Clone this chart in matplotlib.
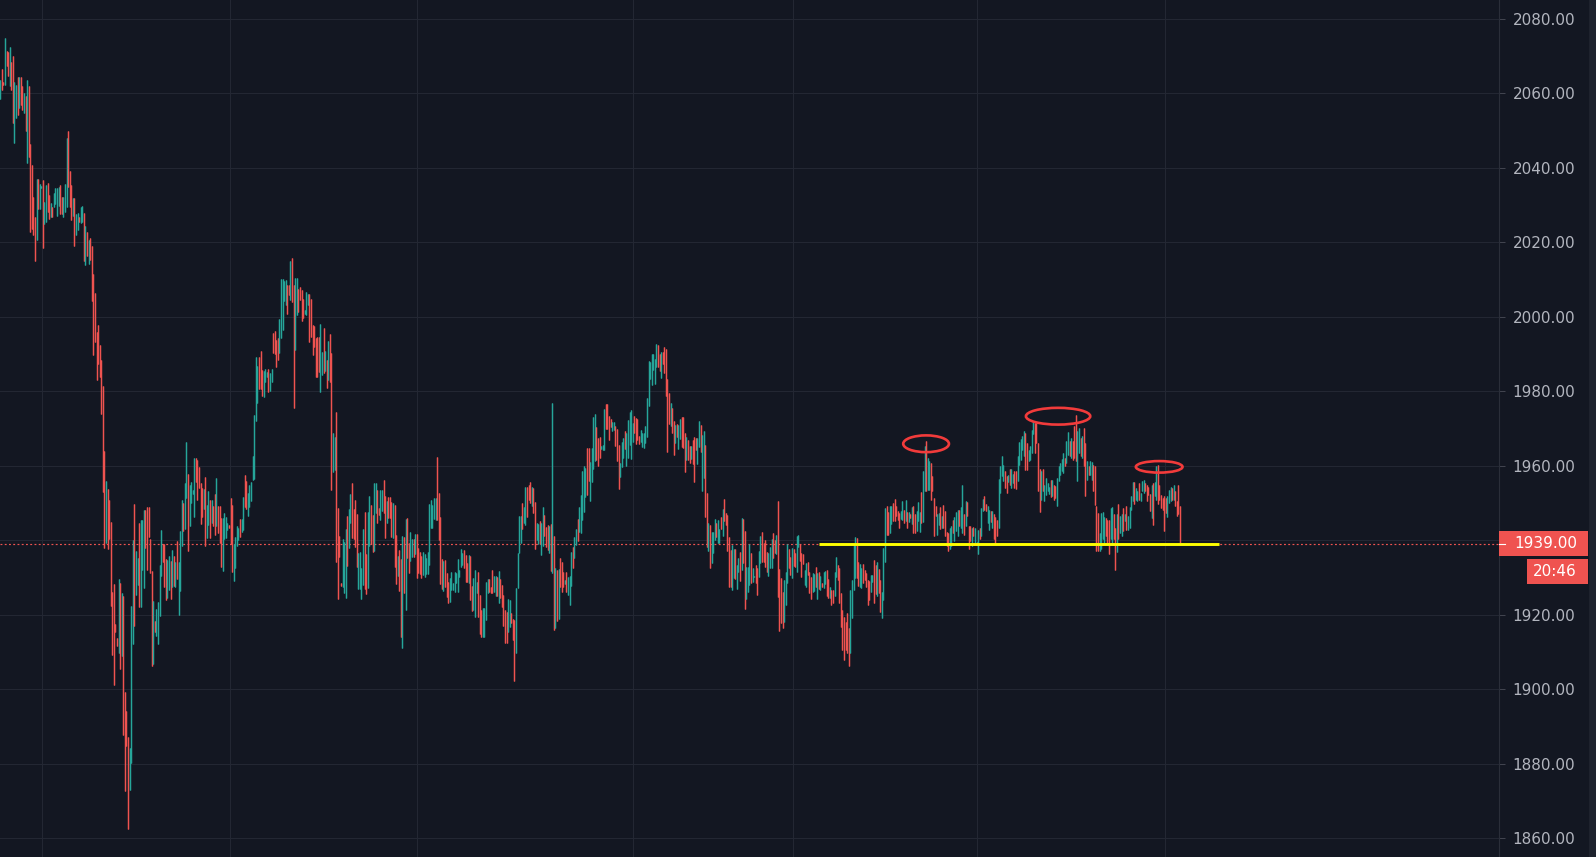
import numpy as np
import matplotlib
matplotlib.use("Agg")
import matplotlib.pyplot as plt
from matplotlib.patches import Rectangle, Ellipse
from matplotlib.lines import Line2D
from matplotlib import transforms

# ---- candle data (per bar: high, low, direction 1 = up / 0 = down) ----
highs = [
    2063.7, 2066.7, 2063.0, 2074.8, 2071.5, 2071.0, 2072.6, 2068.5, 2070.1, 2063.0,
    2062.3, 2064.4, 2064.4, 2064.4, 2061.9, 2060.0, 2059.2, 2063.7, 2061.9, 2046.4,
    2040.8, 2032.3, 2026.8, 2037.1, 2037.1, 2035.7, 2035.2, 2036.8, 2030.9, 2035.3,
    2036.0, 2032.7, 2030.5, 2029.5, 2033.2, 2034.7, 2034.7, 2035.0, 2035.4, 2032.3,
    2032.3, 2035.7, 2048.0, 2049.8, 2039.1, 2035.4, 2031.9, 2032.0, 2027.5, 2027.8,
    2026.8, 2029.5, 2029.8, 2027.9, 2024.5, 2022.7, 2020.7, 2021.3, 2019.0, 2011.6,
    2006.4, 1996.0, 1997.7, 1992.4, 1988.5, 1981.4, 1963.9, 1956.0, 1953.7, 1950.7,
    1944.8, 1926.1, 1928.1, 1917.4, 1913.8, 1929.7, 1928.4, 1925.9, 1925.0, 1899.3,
    1894.2, 1887.2, 1884.2, 1922.2, 1940.0, 1949.6, 1937.0, 1935.2, 1944.5, 1945.4,
    1945.4, 1948.1, 1948.1, 1949.0, 1949.0, 1940.3, 1931.7, 1923.7, 1918.3, 1921.5,
    1923.4, 1933.3, 1942.7, 1939.1, 1939.0, 1934.9, 1934.7, 1935.8, 1934.4, 1937.3,
    1935.8, 1934.2, 1939.8, 1934.2, 1942.5, 1950.8, 1949.9, 1955.3, 1966.4, 1957.9,
    1954.8, 1955.7, 1953.5, 1962.0, 1962.2, 1961.5, 1959.6, 1955.3, 1953.9, 1953.7,
    1956.9, 1949.4, 1953.3, 1950.8, 1950.8, 1949.2, 1952.4, 1956.6, 1949.2, 1949.2,
    1945.9, 1945.9, 1947.2, 1946.1, 1944.5, 1944.0, 1951.2, 1949.4, 1938.9, 1940.9,
    1943.8, 1943.2, 1945.6, 1945.6, 1951.7, 1957.5, 1955.9, 1952.8, 1954.8, 1955.7,
    1962.6, 1973.6, 1989.3, 1986.8, 1989.3, 1990.8, 1985.7, 1985.5, 1986.0, 1985.3,
    1985.9, 1984.8, 1986.0, 1995.6, 1996.3, 1993.8, 1994.2, 1999.3, 2010.1, 2010.1,
    2009.7, 2009.9, 2008.5, 2008.5, 2015.1, 2015.7, 2008.5, 2010.3, 2010.3, 2007.6,
    2007.9, 2007.2, 2004.7, 2001.8, 2006.7, 2006.1, 2006.1, 2004.7, 1997.8, 1997.5,
    1994.2, 1994.7, 1994.5, 1998.1, 1990.6, 1996.9, 1990.8, 1988.4, 1993.6, 1995.4,
    1990.2, 1968.7, 1967.8, 1974.5, 1948.6, 1941.1, 1928.6, 1940.3, 1939.6, 1943.0,
    1946.6, 1948.4, 1952.4, 1955.4, 1948.4, 1950.8, 1947.0, 1936.5, 1936.7, 1932.6,
    1943.0, 1947.7, 1936.3, 1947.7, 1951.9, 1949.4, 1946.8, 1955.3, 1955.3, 1953.6,
    1948.6, 1953.5, 1953.6, 1956.2, 1951.9, 1950.5, 1951.5, 1951.5, 1950.2, 1950.1,
    1949.4, 1941.4, 1935.7, 1937.4, 1934.9, 1941.1, 1940.8, 1945.6, 1946.0, 1939.3,
    1942.1, 1940.3, 1940.3, 1941.7, 1941.7, 1937.8, 1936.7, 1935.8, 1936.7, 1936.3,
    1935.1, 1936.7, 1949.6, 1950.8, 1949.4, 1951.2, 1951.2, 1962.4, 1952.8, 1946.3,
    1934.9, 1934.5, 1934.7, 1931.1, 1928.9, 1929.9, 1931.5, 1928.6, 1931.5, 1931.1,
    1934.9, 1932.0, 1937.6, 1936.5, 1937.4, 1936.0, 1933.8, 1936.0, 1935.8, 1927.8,
    1929.8, 1932.0, 1928.8, 1931.5, 1925.3, 1921.2, 1921.7, 1921.7, 1928.9, 1929.5,
    1929.5, 1927.5, 1932.0, 1930.4, 1930.4, 1930.2, 1931.7, 1929.5, 1928.0, 1925.3,
    1921.2, 1920.8, 1924.2, 1923.9, 1920.5, 1918.8, 1918.6, 1927.1, 1936.5, 1946.5,
    1946.5, 1949.9, 1949.0, 1954.4, 1954.4, 1954.8, 1955.7, 1954.4, 1953.9, 1950.2,
    1944.5, 1944.3, 1945.2, 1944.5, 1949.0, 1946.8, 1943.6, 1944.1, 1943.9, 1944.3,
    1976.8, 1941.1, 1932.4, 1932.0, 1932.2, 1935.1, 1934.2, 1931.5, 1929.3, 1931.5,
    1930.2, 1930.4, 1936.9, 1938.3, 1940.9, 1942.9, 1945.6, 1949.0, 1952.1, 1958.7,
    1959.8, 1959.3, 1964.7, 1964.7, 1961.1, 1964.7, 1973.0, 1973.9, 1970.5, 1967.4,
    1967.6, 1965.3, 1965.6, 1975.2, 1976.6, 1976.6, 1973.4, 1972.5, 1971.8, 1971.8,
    1970.7, 1969.8, 1965.6, 1960.8, 1966.3, 1967.4, 1969.2, 1968.7, 1972.3, 1974.3,
    1975.0, 1971.4, 1973.4, 1972.9, 1972.5, 1968.0, 1969.6, 1968.9, 1968.7, 1970.7,
    1978.1, 1988.1, 1987.9, 1990.0, 1990.0, 1988.8, 1992.7, 1992.4, 1989.9, 1990.6,
    1990.6, 1992.0, 1991.4, 1983.2, 1979.6, 1976.8, 1975.4, 1972.1, 1971.0, 1971.1,
    1970.9, 1972.5, 1973.0, 1973.0, 1968.9, 1967.6, 1966.9, 1965.3, 1965.3,
    1966.9, 1967.8, 1967.4, 1967.4, 1972.1, 1970.9, 1968.3, 1969.2, 1965.6, 1952.8,
    1944.5, 1944.1, 1942.3, 1942.3, 1945.6, 1944.5, 1945.4, 1942.9, 1946.1,
    1948.4, 1951.0, 1947.2, 1946.8, 1940.8, 1937.4, 1938.7, 1937.6, 1937.5, 1933.3,
    1935.1, 1936.9, 1945.9, 1945.6, 1942.6, 1932.9, 1932.9, 1939.0, 1936.5, 1932.6,
    1930.4, 1933.3, 1932.6, 1937.1, 1941.1, 1942.1, 1939.3, 1940.0, 1936.7, 1936.5,
    1938.3, 1940.2, 1941.8, 1940.0, 1941.4, 1950.5, 1932.3, 1929.8, 1926.2, 1929.3,
    1931.5, 1939.0, 1937.6, 1935.6, 1937.8, 1937.5, 1936.5, 1941.1, 1941.4,
    1939.0, 1936.6, 1936.3, 1932.0, 1934.0, 1934.2, 1931.5, 1930.2, 1931.1, 1930.9,
    1932.7, 1931.1, 1931.5, 1930.4, 1928.6, 1931.5, 1931.7, 1932.0, 1929.7,
    1927.5, 1926.6, 1926.6, 1931.5, 1935.6, 1933.3, 1932.4, 1925.9, 1921.2, 1919.4,
    1918.1, 1920.5, 1916.5, 1926.6, 1929.3, 1939.1, 1940.8, 1940.5, 1934.2, 1933.6,
    1932.4, 1933.6, 1932.0, 1931.1, 1929.3, 1929.1, 1930.6, 1930.6, 1934.7, 1933.3,
    1934.2, 1932.3, 1929.3, 1926.2, 1937.8, 1948.7, 1949.3, 1947.7, 1949.3, 1949.2,
    1950.1, 1951.0, 1949.2, 1947.9, 1947.3, 1947.9, 1950.6, 1948.2, 1950.9, 1947.5,
    1947.5, 1947.0, 1948.9, 1949.3, 1947.0, 1947.9, 1950.2, 1947.5, 1952.9, 1958.7,
    1965.2, 1966.7, 1962.1, 1961.2, 1960.7, 1957.2, 1951.4, 1949.1, 1946.9, 1947.3,
    1948.9, 1946.4, 1949.5, 1947.9, 1942.1, 1941.9, 1943.3, 1943.7, 1945.5, 1946.2,
    1947.5, 1948.2, 1948.2, 1948.9, 1954.9, 1946.9, 1950.5, 1950.2, 1943.9, 1943.7,
    1943.3, 1943.5, 1943.3, 1939.5, 1942.8, 1943.3, 1948.7, 1951.1, 1952.0, 1949.6,
    1949.3, 1948.2, 1947.8, 1947.9, 1947.0, 1946.2, 1945.3, 1956.5, 1959.9, 1962.5,
    1960.3, 1958.5, 1957.2, 1957.4, 1959.0, 1959.0, 1957.9, 1958.5, 1958.5,
    1962.7, 1966.3, 1967.2, 1968.1, 1969.4, 1968.8, 1966.1, 1964.3, 1965.2, 1969.7,
    1972.1, 1971.5, 1971.5, 1966.1, 1959.1, 1958.5, 1959.1, 1954.9, 1956.7, 1955.4,
    1954.3, 1956.3, 1956.1, 1954.9, 1954.5, 1956.7, 1960.0, 1960.6, 1961.8, 1963.4,
    1962.1, 1966.6, 1969.0, 1966.6, 1967.5, 1966.6, 1970.8, 1973.7, 1969.3, 1970.1,
    1967.5, 1967.9, 1970.1, 1966.1, 1961.2, 1959.9, 1961.2, 1961.0, 1960.3,
    1959.9, 1949.1, 1947.3, 1941.9, 1947.3, 1947.5, 1946.2, 1946.0, 1945.5, 1945.5,
    1948.7, 1948.9, 1946.9, 1943.3, 1946.9, 1949.8, 1946.4, 1946.9, 1948.7, 1946.9,
    1949.1, 1946.6, 1948.9, 1951.8, 1955.6, 1955.6, 1954.0, 1953.1, 1955.4,
    1952.7, 1956.0, 1956.3, 1955.4, 1954.9, 1954.3, 1952.5, 1954.9, 1955.4, 1955.6,
    1959.9, 1960.3, 1954.9, 1952.2, 1951.3, 1951.8, 1951.3, 1951.8, 1953.6,
    1954.3, 1954.0, 1954.9, 1953.1, 1950.4, 1954.9, 1949.1,
]

lows = [
    2058.5, 2061.0, 2062.3, 2062.3, 2067.4, 2064.7, 2061.9, 2061.0, 2052.1, 2046.6,
    2053.5, 2054.1, 2056.2, 2056.9, 2055.5, 2054.8, 2050.0, 2041.2, 2042.8, 2022.7,
    2023.7, 2022.0, 2014.9, 2020.7, 2028.9, 2028.9, 2034.5, 2018.6, 2024.8, 2025.4,
    2028.2, 2026.4, 2026.8, 2026.8, 2029.5, 2030.2, 2027.2, 2029.8, 2027.5, 2027.5,
    2026.8, 2028.2, 2029.5, 2035.0, 2029.5, 2026.1, 2027.2, 2019.0, 2022.0, 2023.4,
    2025.4, 2025.2, 2025.4, 2014.9, 2013.8, 2016.3, 2014.1, 2015.2, 2004.3, 1989.8,
    1993.3, 1983.1, 1987.2, 1983.7, 1973.8, 1953.0, 1938.0, 1939.3, 1937.7, 1940.4,
    1922.2, 1909.2, 1901.0, 1915.4, 1911.6, 1909.6, 1905.5, 1908.8, 1887.6, 1872.6,
    1884.6, 1862.3, 1873.0, 1880.1, 1912.0, 1917.0, 1925.2, 1928.0, 1922.1, 1922.1,
    1932.0, 1927.2, 1937.8, 1932.0, 1940.9, 1931.1, 1906.2, 1906.7, 1915.4, 1914.3,
    1912.2, 1919.6, 1930.5, 1934.2, 1927.5, 1923.9, 1924.4, 1926.6, 1924.2, 1927.5,
    1927.8, 1927.5, 1929.7, 1919.9, 1926.4, 1938.4, 1942.5, 1942.9, 1951.2, 1937.2,
    1943.8, 1949.9, 1952.4, 1946.3, 1955.7, 1950.8, 1953.9, 1944.3, 1946.3, 1948.3,
    1938.4, 1940.7, 1944.1, 1940.5, 1944.5, 1943.8, 1941.4, 1943.8, 1941.8, 1939.3,
    1932.9, 1931.8, 1940.2, 1940.5, 1942.7, 1943.4, 1939.0, 1931.4, 1929.1, 1932.4,
    1938.4, 1940.0, 1940.9, 1942.2, 1942.7, 1949.0, 1948.3, 1946.5, 1949.0, 1950.6,
    1956.3, 1956.4, 1972.1, 1976.8, 1980.5, 1980.5, 1978.7, 1978.5, 1982.6, 1983.7,
    1979.9, 1980.2, 1982.6, 1990.2, 1989.9, 1986.6, 1988.4, 1990.2, 1994.2, 1996.5,
    2004.3, 2003.2, 2000.8, 2005.9, 2004.5, 2004.1, 1975.6, 1991.1, 2000.5, 2001.4,
    2004.5, 1999.0, 1999.6, 2000.7, 2000.5, 2003.2, 1993.3, 1994.7, 1989.7, 1991.8,
    1983.9, 1983.9, 1985.3, 1979.9, 1984.4, 1985.0, 1985.4, 1980.9, 1983.0, 1982.6,
    1953.5, 1958.4, 1958.8, 1934.2, 1924.2, 1935.6, 1927.7, 1927.5, 1925.9, 1924.6,
    1933.2, 1937.8, 1944.5, 1940.5, 1940.2, 1938.3, 1932.7, 1926.9, 1926.9, 1924.2,
    1928.0, 1926.8, 1925.5, 1927.1, 1938.5, 1939.0, 1936.9, 1937.1, 1947.2, 1944.7,
    1946.8, 1945.4, 1947.9, 1947.4, 1940.5, 1944.7, 1946.0, 1945.9, 1940.8, 1940.7,
    1932.9, 1928.1, 1930.5, 1926.3, 1914.1, 1911.1, 1925.7, 1921.2, 1935.3, 1931.1,
    1934.5, 1935.4, 1935.6, 1936.2, 1929.8, 1931.1, 1930.8, 1929.9, 1930.6, 1930.0,
    1930.8, 1930.8, 1933.3, 1943.2, 1943.2, 1945.6, 1945.4, 1945.4, 1940.0, 1928.1,
    1926.8, 1926.4, 1927.5, 1924.8, 1923.2, 1923.5, 1926.6, 1926.6, 1926.2, 1928.4,
    1926.2, 1930.2, 1932.9, 1933.3, 1932.4, 1928.9, 1928.9, 1928.4, 1923.9, 1921.1,
    1921.2, 1919.5, 1925.7, 1919.5, 1914.7, 1913.9, 1914.1, 1914.1, 1918.6, 1925.7,
    1926.2, 1925.7, 1925.7, 1926.2, 1925.1, 1925.0, 1923.2, 1924.4, 1922.1, 1917.0,
    1912.5, 1912.5, 1915.4, 1916.8, 1917.7, 1913.2, 1902.3, 1909.6, 1927.1, 1936.5,
    1939.2, 1942.9, 1944.5, 1944.1, 1946.3, 1950.8, 1950.1, 1949.2, 1947.2, 1937.6,
    1940.0, 1939.0, 1938.9, 1936.0, 1938.4, 1941.0, 1938.3, 1937.4, 1936.6, 1931.8,
    1931.3, 1915.9, 1916.3, 1918.4, 1918.7, 1927.5, 1926.2, 1927.5, 1928.2, 1926.2,
    1925.3, 1922.6, 1927.7, 1932.6, 1935.3, 1938.7, 1939.8, 1942.3, 1942.0, 1945.4,
    1947.7, 1951.7, 1952.1, 1955.9, 1950.4, 1955.7, 1959.1, 1961.3, 1961.5, 1959.9,
    1962.0, 1964.4, 1964.2, 1964.2, 1970.0, 1969.9, 1966.9, 1970.5, 1969.2, 1969.6,
    1965.3, 1961.3, 1953.8, 1957.1, 1959.6, 1962.0, 1964.5, 1959.9, 1962.0, 1965.6,
    1961.7, 1966.5, 1968.9, 1965.8, 1966.9, 1965.8, 1966.5, 1964.9, 1964.7, 1966.2,
    1967.8, 1976.0, 1983.2, 1981.7, 1985.7, 1981.9, 1986.6, 1986.6, 1985.4, 1983.5,
    1987.3, 1985.0, 1978.8, 1963.8, 1971.1, 1970.7, 1968.9, 1962.9, 1966.2, 1967.8,
    1964.4, 1967.1, 1965.1, 1964.7, 1958.4, 1961.5, 1961.5, 1960.8, 1961.7,
    1960.5, 1955.7, 1964.1, 1960.5, 1965.1, 1963.8, 1953.3, 1956.6, 1946.3, 1938.3,
    1937.1, 1932.4, 1933.8, 1936.6, 1940.0, 1940.9, 1939.2, 1939.2, 1943.0,
    1941.1, 1945.2, 1944.1, 1937.2, 1927.5, 1927.5, 1926.6, 1929.8, 1929.5, 1926.8,
    1931.5, 1929.1, 1932.0, 1934.0, 1921.5, 1924.1, 1926.2, 1927.9, 1928.6, 1928.8,
    1930.0, 1928.6, 1925.3, 1930.2, 1933.8, 1934.2, 1934.2, 1932.9, 1931.5, 1930.4,
    1932.6, 1932.6, 1935.1, 1936.5, 1936.3, 1924.8, 1915.7, 1917.8, 1916.3, 1918.1,
    1922.6, 1928.4, 1932.4, 1930.6, 1929.9, 1933.2, 1932.9, 1931.5, 1938.2,
    1934.5, 1930.2, 1933.6, 1928.0, 1927.5, 1930.6, 1925.9, 1924.1, 1926.2, 1926.4,
    1927.5, 1924.2, 1926.8, 1926.6, 1927.5, 1927.1, 1928.2, 1925.1, 1924.4,
    1924.6, 1922.6, 1923.0, 1925.0, 1930.0, 1929.3, 1923.0, 1916.8, 1910.5, 1907.8,
    1910.5, 1909.6, 1906.2, 1909.6, 1919.2, 1926.6, 1929.8, 1929.8, 1927.7, 1927.3,
    1927.1, 1928.6, 1929.3, 1927.5, 1922.6, 1923.9, 1926.2, 1928.8, 1923.2, 1925.5,
    1925.0, 1925.7, 1920.8, 1919.2, 1923.9, 1934.2, 1941.4, 1941.4, 1942.0, 1944.4,
    1945.2, 1945.2, 1946.5, 1945.5, 1943.3, 1945.7, 1945.5, 1944.6, 1945.1, 1943.3,
    1944.8, 1946.0, 1944.4, 1941.8, 1941.9, 1942.4, 1945.1, 1942.1, 1944.6, 1944.8,
    1953.1, 1953.1, 1953.6, 1953.6, 1950.9, 1953.1, 1941.0, 1946.4, 1941.5, 1944.2,
    1943.0, 1943.3, 1943.3, 1941.0, 1938.4, 1937.0, 1937.5, 1938.4, 1941.9, 1939.7,
    1942.4, 1941.0, 1943.7, 1943.3, 1941.9, 1941.5, 1943.7, 1946.4, 1937.5, 1939.7,
    1938.4, 1941.0, 1939.3, 1938.8, 1936.4, 1940.2, 1941.0, 1947.8, 1948.2, 1947.8,
    1944.6, 1942.8, 1944.8, 1943.3, 1940.2, 1939.1, 1941.0, 1943.3, 1952.7, 1957.2,
    1955.8, 1954.0, 1952.7, 1955.6, 1954.7, 1954.0, 1955.4, 1954.0, 1953.8,
    1955.8, 1960.3, 1961.6, 1964.3, 1962.7, 1958.9, 1958.9, 1961.2, 1961.6, 1963.4,
    1968.4, 1963.4, 1966.1, 1953.1, 1947.5, 1950.9, 1953.1, 1950.4, 1952.2, 1953.1,
    1952.5, 1951.6, 1951.8, 1950.9, 1951.4, 1949.3, 1955.8, 1957.6, 1958.5, 1958.1,
    1959.9, 1960.7, 1963.0, 1962.5, 1962.1, 1961.6, 1962.1, 1961.2, 1955.8, 1963.4,
    1962.5, 1962.1, 1959.9, 1952.0, 1956.3, 1957.6, 1957.6, 1956.3, 1953.1,
    1949.5, 1937.0, 1937.0, 1937.0, 1937.5, 1940.2, 1939.3, 1941.0, 1939.3, 1936.4,
    1940.2, 1938.8, 1940.3, 1932.1, 1936.8, 1940.2, 1941.9, 1941.2, 1942.4, 1945.1,
    1942.8, 1942.7, 1943.3, 1948.2, 1950.5, 1949.6, 1950.9, 1950.5, 1950.9,
    1950.5, 1953.1, 1952.7, 1953.1, 1950.5, 1952.2, 1947.8, 1946.0, 1944.2, 1951.8,
    1950.9, 1949.8, 1950.9, 1948.7, 1948.2, 1942.4, 1947.3, 1946.2, 1950.0,
    1950.5, 1950.9, 1950.7, 1949.1, 1946.4, 1946.9, 1939.0,
]

rising = [
    1, 0, 0, 1, 0, 0, 1, 0, 0, 1,  1, 0, 1, 0, 0, 1, 0, 1, 0, 0,
    0, 0, 0, 1, 0, 1, 1, 0, 1, 1,  0, 0, 1, 0, 1, 1, 1, 1, 0, 0,
    1, 1, 1, 0, 0, 0, 1, 0, 1, 1,  0, 1, 1, 0, 1, 0, 1, 0, 0, 0,
    0, 0, 0, 0, 0, 0, 0, 1, 0, 0,  0, 0, 0, 0, 0, 1, 0, 1, 0, 0,
    0, 0, 1, 1, 1, 0, 1, 1, 0, 1,  1, 1, 0, 0, 0, 0, 0, 1, 0, 1,
    1, 1, 1, 0, 0, 0, 1, 1, 0, 1,  0, 1, 0, 1, 1, 1, 0, 1, 1, 0,
    1, 1, 1, 1, 0, 0, 0, 0, 0, 1,  0, 1, 1, 0, 1, 0, 0, 1, 0, 0,
    0, 1, 1, 1, 1, 0, 0, 0, 1, 1,  1, 1, 0, 1, 1, 0, 0, 1, 1, 1,
    1, 1, 1, 1, 0, 0, 0, 1, 1, 1,  0, 1, 1, 0, 0, 0, 0, 1, 1, 1,
    1, 1, 0, 0, 1, 0, 0, 1, 1, 0,  0, 0, 0, 1, 1, 1, 0, 0, 0, 0,
    0, 0, 0, 1, 1, 0, 1, 0, 1, 0,  0, 1, 1, 0, 0, 0, 0, 1, 1, 1,
    0, 1, 1, 0, 0, 0, 0, 1, 1, 1,  1, 0, 0, 1, 1, 0, 0, 1, 1, 0,
    0, 1, 1, 0, 0, 1, 0, 0, 0, 1,  0, 0, 1, 0, 0, 1, 0, 1, 0, 0,
    1, 1, 0, 1, 0, 0, 0, 0, 1, 1,  1, 1, 1, 1, 1, 1, 1, 0, 0, 0,
    0, 1, 0, 0, 0, 1, 1, 1, 1, 1,  1, 1, 1, 1, 0, 0, 0, 1, 0, 0,
    1, 1, 1, 0, 0, 0, 1, 1, 1, 1,  0, 0, 0, 1, 1, 0, 1, 0, 0, 0,
    0, 0, 1, 1, 0, 0, 0, 1, 1, 1,  1, 0, 1, 1, 0, 0, 0, 1, 0, 0,
    1, 1, 0, 1, 1, 0, 0, 0, 1, 0,  1, 0, 1, 0, 1, 0, 0, 0, 1, 0,
    1, 1, 1, 0, 1, 1, 0, 1, 1, 1,  1, 1, 0, 0, 1, 1, 1, 1, 0, 0,
    0, 1, 1, 1, 0, 0, 0, 0, 1, 1,  0, 0, 0, 1, 1, 1, 0, 1, 1, 1,
    1, 1, 0, 0, 0, 0, 1, 1, 1, 1,  1, 1, 1, 1, 1, 1, 1, 0, 0, 1,
    0, 0, 0, 0, 0, 1, 0, 0, 1, 0,  1, 1, 0, 0, 0, 1, 0, 0, 1,
    0, 0, 0, 1, 1, 0, 1, 1, 0, 0,  1, 0, 1, 1, 1, 0, 1, 1, 0,
    1, 0, 0, 0, 0, 0, 1, 1, 0, 1,  1, 0, 1, 0, 0, 1, 1, 1, 0, 1,
    1, 0, 0, 1, 1, 0, 0, 0, 0, 1,  1, 1, 0, 0, 1, 0, 0, 0, 0, 1,
    1, 1, 0, 0, 1, 0, 0, 1, 1,  0, 0, 0, 1, 1, 0, 0, 0, 1, 1,
    0, 1, 0, 1, 0, 1, 1, 0, 0,  1, 0, 0, 1, 1, 0, 0, 0, 0, 0,
    0, 0, 0, 1, 1, 1, 1, 0, 0, 1,  1, 0, 0, 0, 0, 0, 1, 1, 0, 0,
    1, 0, 0, 1, 1, 1, 0, 0, 1, 1,  0, 0, 0, 0, 0, 1, 1, 0, 1, 0,
    1, 0, 1, 0, 0, 1, 1, 1, 0, 1,  1, 0, 1, 1, 0, 0, 0, 0, 1, 1,
    0, 1, 0, 0, 0, 0, 1, 1, 0, 1,  1, 1, 0, 1, 1, 0, 1, 0, 0, 0,
    1, 0, 1, 1, 1, 0, 1, 1, 0, 0,  1, 1, 0, 1, 0, 0, 0, 1, 1, 1,
    1, 0, 0, 1, 0, 1, 1, 0, 0,  1, 1, 1, 1, 1, 0, 0, 1, 1, 1,
    1, 0, 0, 0, 0, 1, 0, 1, 1, 1,  1, 0, 1, 0, 0, 1, 1, 1, 1, 1,
    0, 1, 1, 0, 1, 0, 0, 0, 1, 1,  0, 1, 0, 0, 1, 0, 1, 1, 0,
    0, 0, 0, 1, 1, 1, 1, 0, 0, 0,  1, 1, 0, 0, 1, 0, 1, 1, 0, 1,
    0, 1, 1, 1, 1, 0, 1, 1, 0,  1, 1, 1, 0, 0, 0, 0, 1, 0, 1,
    1, 0, 0, 0, 0, 0, 0, 1, 1,  1, 0, 1, 0, 0, 0, 0,
]

# price scale and annotations
price_ticks = [1860, 1880, 1900, 1920, 1940, 1960, 1980, 2000, 2020, 2040, 2060, 2080]
timer_text = "20:46"
support_level = 1939.0
support_from, support_to = 519, 772.6        # bar index span of the drawn level
ring_bars = [587, 670.7, 734.8]              # bar index of each marked top
ring_prices = [1965.9, 1973.3, 1959.7]
ring_spans = [29.0, 40.8, 29.6]              # width in bars
ring_depths = [4.5, 4.5, 3.1]                # height in price units

highs = np.array(highs)
lows = np.array(lows)
rising = np.array(rising, dtype=bool)
assert len(highs) == len(lows) == len(rising), (len(highs), len(lows), len(rising))
opens = np.where(rising, lows, highs)
closes = np.where(rising, highs, lows)
n = len(highs)
idx = np.arange(n)

# ---- styling ----
BG = "#131722"
GRID = "#232733"
UP = "#26a69a"
DOWN = "#ef5350"
TXT = "#b2b5be"
W, H = 1596, 857
PLOT_W = 1499                 # pixel width of the candle pane
BAR_PX = (1180 - 0.3) / (n - 1)

fig = plt.figure(figsize=(W / 100, H / 100), dpi=100, facecolor=BG)
ax = fig.add_axes([0, 0, PLOT_W / W, 1])
ax.set_facecolor(BG)
ax.set_xlim(-0.3 / BAR_PX, (PLOT_W - 0.3) / BAR_PX)
ax.set_ylim(1854.9, 2085.1)

for s in ["left", "top", "bottom"]:
    ax.spines[s].set_visible(False)
ax.spines["right"].set_color("#2a2e39")
ax.spines["right"].set_linewidth(0.8)

# grid
for p in price_ticks:
    ax.axhline(p, color=GRID, lw=0.75, zorder=0)
for xp in [42, 230, 417, 633, 793, 977, 1165]:
    ax.axvline((xp - 0.3) / BAR_PX, color=GRID, lw=0.75, zorder=0)

# last price dotted line
last = closes[-1]
ax.axhline(last, color=DOWN, lw=0.85, linestyle=(0, (1.6, 2.0)), zorder=1)

# candles
cols = np.where(rising, UP, DOWN)
ax.vlines(idx, lows, highs, colors=cols, linewidth=0.8, zorder=3)
ax.vlines(idx, np.minimum(opens, closes), np.maximum(opens, closes),
          colors=cols, linewidth=1.0, zorder=3)

# support level and marked tops
ax.hlines(support_level, support_from, support_to, color="#ffff00", lw=2.1, zorder=5)
for cx, cy, w, h in zip(ring_bars, ring_prices, ring_spans, ring_depths):
    ax.add_patch(Ellipse((cx, cy), w, h, fill=False, edgecolor="#f23b3b",
                         lw=1.9, zorder=6))

# right price scale
ax.yaxis.tick_right()
ax.set_yticks(price_ticks)
ax.set_yticklabels(["" if p == 1940 else f"{p:.2f}" for p in price_ticks])
ax.tick_params(axis="y", length=4.3, width=0.7, color="#434651",
               labelcolor=TXT, labelsize=11, pad=5.6)
ax.set_xticks([])

blend = transforms.blended_transform_factory(fig.transFigure, ax.transData)
px_per_price = H / (2085.1 - 1854.9)
box_h = 25 / px_per_price
fig.add_artist(Rectangle((PLOT_W / W, last - box_h / 2), 89 / W, box_h,
                         transform=blend, facecolor=DOWN, edgecolor="none", zorder=10))
fig.add_artist(Line2D([PLOT_W / W, 1505 / W], [last, last], transform=blend,
                      color="white", lw=0.8, zorder=11))
fig.text(1577 / W, last, f"{last:.2f}", transform=blend, ha="right", va="center",
         color="white", fontsize=11, zorder=12)

timer_y = last - 28 / px_per_price
fig.add_artist(Rectangle((1527 / W, timer_y - box_h / 2), 61 / W, box_h,
                         transform=blend, facecolor=DOWN, edgecolor="none", zorder=10))
fig.text(1577 / W, timer_y, timer_text, transform=blend, ha="right", va="center",
         color="white", fontsize=11, zorder=12)

# narrow strip at the far right edge
fig.add_artist(Rectangle((1589 / W, 0), 7 / W, 1, transform=fig.transFigure,
                         facecolor="#1e222d", edgecolor="none", zorder=9))

fig.savefig("out.png", dpi=100, facecolor=BG)
